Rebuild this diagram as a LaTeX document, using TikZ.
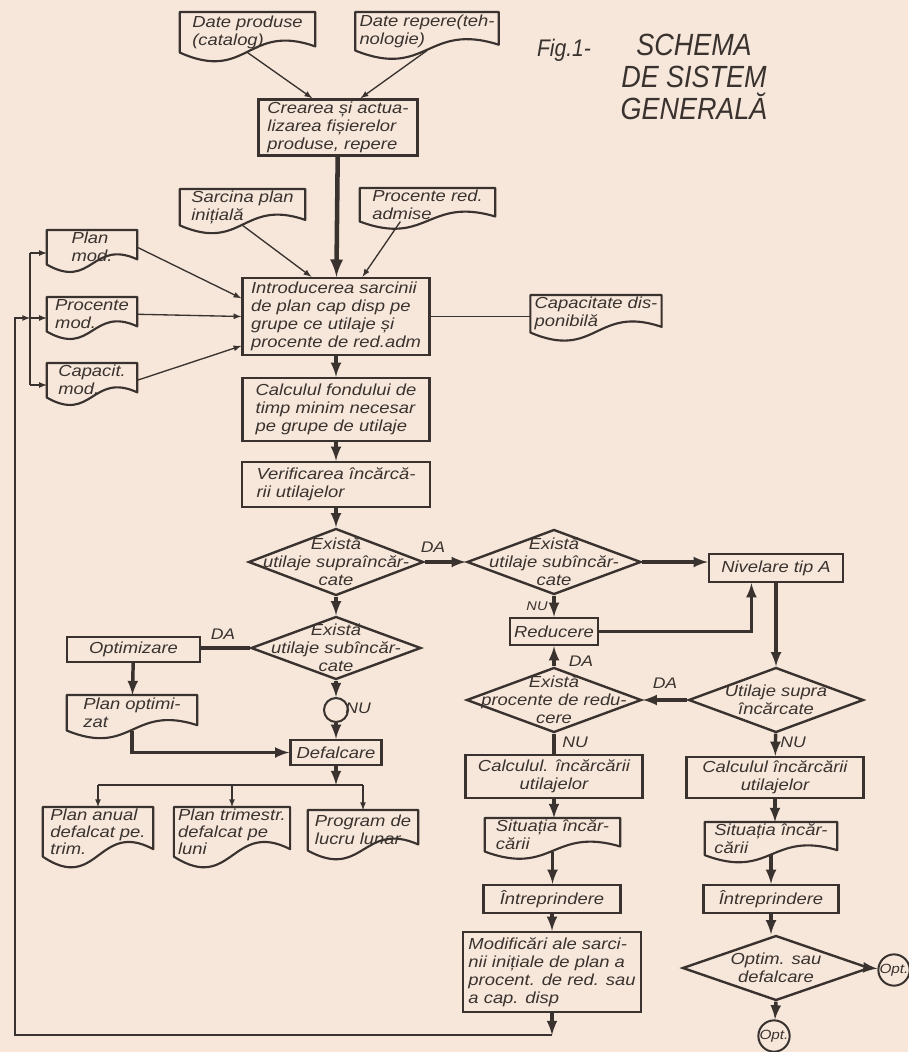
\documentclass[tikz,border=0pt]{standalone}
\usepackage{fontspec}
\usepackage[dvipsnames]{xcolor}
\usepackage{tikz}
\usetikzlibrary{shapes.geometric,calc}

\setsansfont{Liberation Sans}[FakeStretch=1.15]
\newfontfamily\titlefont{Liberation Sans}[FakeStretch=0.88]
\definecolor{paper}{RGB}{246,231,218}
\definecolor{ink}{RGB}{58,50,46}

\tikzset{
  txt/.style={text=ink, font=\sffamily\itshape\fontsize{12}{13.5}\selectfont},
  sz/.style 2 args={minimum width=#1*0.75pt, minimum height=#2*0.75pt},
  proc/.style={txt, rectangle, draw=ink, line width=1.8pt, align=left, inner sep=2pt},
  doc/.style={txt, rectangle, anchor=north, align=left, inner xsep=3pt, inner ysep=1pt,
    append after command={\pgfextra{\draw[ink, line width=1.6pt, line join=round]
      (\tikzlastnode.north west) -- (\tikzlastnode.north east)
      -- ($(\tikzlastnode.south east)!0.15!(\tikzlastnode.north east)$)
      .. controls ($(\tikzlastnode.south)!0.75!(\tikzlastnode.north)$) and ($(\tikzlastnode.south)!-0.75!(\tikzlastnode.north)$) .. (\tikzlastnode.south west) -- cycle;}}},
  dec/.style={diamond, draw=ink, line width=1.8pt, inner sep=0pt},
  dtxt/.style={txt, align=center, inner sep=0pt},
  conn/.style={circle, draw=ink, line width=1.5pt, inner sep=0pt, minimum size=#1*0.75pt, txt, font=\sffamily\itshape\fontsize{10}{10}\selectfont},
  feed/.style={ink, line width=1pt, -latex},
  flow/.style={ink, line width=2.6pt, -latex},
  lbl/.style={text=ink, font=\sffamily\itshape\fontsize{11.5}{12}\selectfont, inner sep=0pt},
}

\begin{document}
\begin{tikzpicture}[x=0.75pt,y=0.75pt,yscale=-1,xscale=1]
\fill [paper] (0,0) rectangle (908,1052);
\useasboundingbox (0,0) rectangle (908,1052);

% Text Node
\draw (564,50) node [text=ink, font=\titlefont\itshape\fontsize{18}{20}\selectfont] (fig) {Fig.1-};
% Text Node
\draw (694,77) node [text=ink, align=center, font=\titlefont\itshape\fontsize{23}{24}\selectfont] (title) {SCHEMA\\DE SISTEM\\GENERALĂ};

%Shape: Document
\draw (247.5,12) node [doc, sz={135}{40}] (dprod) {Date produse\\(catalog)};
\draw (427,12) node [doc, sz={134}{38}] (drep) {Date repere(teh-\\nologie)};
\draw (242.5,189) node [doc, sz={125}{33}] (dsarc) {Sarcina plan\\inițială};
\draw (427.5,188) node [doc, sz={135}{33}] (dproc) {Procente red.\\admise};
\draw (92,230) node [doc, sz={90}{34}] (dplan) {Plan\\mod.};
\draw (92,297) node [doc, sz={90}{34}] (dpmod) {Procente\\mod.};
\draw (92,363) node [doc, sz={90}{34}] (dcmod) {Capacit.\\mod.};
\draw (596,295) node [doc, sz={128}{37}] (dcap) {Capacitate dis-\\ponibilă};
\draw (132,695) node [doc, sz={130}{35}] (dpopt) {Plan optimi-\\zat};
\draw (98,807) node [doc, sz={110}{45}, font=\sffamily\itshape\fontsize{12}{13}\selectfont] (danual) {Plan anual\\defalcat pe.\\trim.};
\draw (232,807) node [doc, sz={110}{45}, font=\sffamily\itshape\fontsize{12}{13}\selectfont] (dtrim) {Plan trimestr.\\defalcat pe\\luni};
\draw (363,810) node [doc, sz={110}{40}] (dlucru) {Program de\\lucru lunar};
\draw (552.5,818) node [doc, sz={135}{33}] (dsit1) {Situația încăr-\\cării};
\draw (771,822) node [doc, sz={132}{31}] (dsit2) {Situația încăr-\\cării};

%Shape: Rectangle
\draw (338,127.5) node [proc, sz={159}{55}] (crear) {Crearea și actua-\\lizarea fișierelor\\produse, repere};
\draw (336,316.5) node [proc, sz={187}{77}] (intro) {Introducerea sarcinii\\de plan cap disp pe\\grupe ce utilaje și\\procente de red.adm};
\draw (336,409.5) node [proc, sz={187}{63}] (calc) {Calculul fondului de\\timp minim necesar\\pe grupe de utilaje};
\draw (336,484.5) node [proc, sz={188}{45}] (verif) {Verificarea încărcă-\\rii utilajelor};
\draw (133.5,649.5) node [proc, sz={133}{25}] (optim) {Optimizare};
\draw (336,752.5) node [proc, sz={91}{25}] (defalc) {Defalcare};
\draw (776,568) node [proc, sz={134}{28}] (nivel) {Nivelare tip A};
\draw (554,631.5) node [proc, sz={88}{27}] (reduc) {Reducere};
\draw (554,776.5) node [proc, sz={177}{43}, align=center] (calc1) {Calculul. încărcării\\utilajelor};
\draw (775,777.5) node [proc, sz={177}{41}, align=center] (calc2) {Calculul încărcării\\utilajelor};
\draw (552,899) node [proc, sz={137}{28}] (intr1) {Întreprindere};
\draw (771,899) node [proc, sz={135}{28}] (intr2) {Întreprindere};
\draw (552,972) node [proc, sz={178}{80}] (modif) {Modificări ale sarci-\\nii inițiale de plan a\\procent. de red. sau\\a cap. disp};

%Shape: Diamond
\draw (336,562) node [dec, sz={175}{67}, label={[dtxt]center:Există\\utilaje supraîncăr-\\cate}] (supra) {};
\draw (554,562) node [dec, sz={174}{65}, label={[dtxt]center:Există\\utilaje subîncăr-\\cate}] (sub2) {};
\draw (336,648) node [dec, sz={170}{63}, label={[dtxt]center:Există\\utilaje subîncăr-\\cate}] (sub1) {};
\draw (554,700) node [dec, sz={175}{65}, label={[dtxt]center:Există\\procente de redu-\\cere}] (proc3) {};
\draw (776,700) node [dec, sz={175}{65}, label={[dtxt]center:Utilaje supra\\încărcate}] (supra4) {};
\draw (776,968) node [dec, sz={187}{65}, label={[dtxt]center:Optim. sau\\defalcare}] (optdef) {};

%Shape: Circle
\draw (336,710) node [conn=24] (circ) {};
\draw (894,970) node [conn=29] (opt1) {Opt.};
\draw (774,1036) node [conn=29] (opt2) {Opt.};

% Text Node
\draw (433,547) node [lbl] (da1) {DA};
\draw (537,606) node [lbl, font=\sffamily\itshape\fontsize{9.5}{10}\selectfont] (nu1) {NU};
\draw (581,661) node [lbl] (da2) {DA};
\draw (665,683) node [lbl] (da3) {DA};
\draw (575,742) node [lbl] (nu2) {NU};
\draw (793,742) node [lbl] (nu3) {NU};
\draw (223,634) node [lbl] (da4) {DA};
\draw (358,708) node [lbl] (nu4) {NU};

% coordinates of the busses
\coordinate (bus1) at (30,253);
\coordinate (bus2) at (30,318);
\coordinate (bus3) at (30,385);
\coordinate (fb1) at (552,1035);
\coordinate (fb2) at (15,1035);
\coordinate (bb) at (336,785);
\coordinate (bbl) at (98,785);
\coordinate (bbr) at (363,785);
\coordinate (nv) at ($(nivel.south west)!0.32!(nivel.south east)$);

%Straight Lines
\draw [feed] (dprod.south) -- ($(crear.north west)!0.34!(crear.north east)$);
\draw [feed] (drep.south) -- ($(crear.north west)!0.64!(crear.north east)$);
\draw [flow, line width=3.4pt] (crear) -- (intro);
\draw [feed] (dsarc.south) -- ($(intro.north west)!0.37!(intro.north east)$);
\draw [feed] ($(dproc.south west)!0.3!(dproc.south east)$) -- ($(intro.north west)!0.64!(intro.north east)$);
\draw [feed] (dplan.east) -- ($(intro.north west)!0.27!(intro.south west)$);
\draw [feed] (dpmod.east) -- (intro.west);
\draw [feed] (dcmod.east) -- ($(intro.north west)!0.87!(intro.south west)$);
\draw [feed, -] (intro.east) -- (intro.east -| dcap.west);
\draw [feed, -] (bus1) -- (bus3);
\draw [feed] (bus1) -- (bus1 -| dplan.west);
\draw [feed] (bus2) -- (bus2 -| dpmod.west);
\draw [feed] (bus3) -- (bus3 -| dcmod.west);
\draw [flow] (intro) -- (calc);
\draw [flow] (calc) -- (verif);
\draw [flow] (verif) -- (supra);
\draw [flow] (supra) -- (sub2);
\draw [flow] (sub2.east) -- (sub2.east -| nivel.west);
\draw [flow] (sub2) -- (reduc);
\draw [flow] (reduc.east) -| (nv);
\draw [flow] (nivel) -- (supra4);
\draw [flow] (supra4) -- (proc3);
\draw [flow] (proc3) -- (reduc);
\draw [flow, -] (proc3) -- (calc1);
\draw [flow] (supra4) -- (calc2);
\draw [flow] (calc1.south) -- (calc1.south |- dsit1.north);
\draw [flow] (calc2.south) -- (calc2.south |- dsit2.north);
\draw [flow] (dsit1.south) -- (dsit1.south |- intr1.north);
\draw [flow] (dsit2.south) -- (dsit2.south |- intr2.north);
\draw [flow] (intr1) -- (modif);
\draw [flow] (intr2.south) -- (intr2.south |- optdef.north);
\draw [flow] (optdef.east) -- (opt1);
\draw [flow] (optdef.south) -- (opt2);
\draw [flow] (modif) -- (fb1);
\draw [feed] (fb1) -- (fb2) |- (bus2);
\draw [flow] (supra) -- (sub1);
\draw [flow, -] (sub1.west) -- (sub1.west -| optim.east);
\draw [flow] (optim) -- (dpopt);
\draw [flow] (dpopt.south) |- (defalc.west);
\draw [flow] (sub1) -- (circ);
\draw [flow] (circ) -- (defalc);
\draw [flow] (defalc) -- (bb);
\draw [feed, -] (bbl) -- (bbr);
\draw [feed] (bbl) -- (danual.north);
\draw [feed] (bb -| dtrim.north) -- (dtrim.north);
\draw [feed] (bbr) -- (dlucru.north);
\end{tikzpicture}
\end{document}
